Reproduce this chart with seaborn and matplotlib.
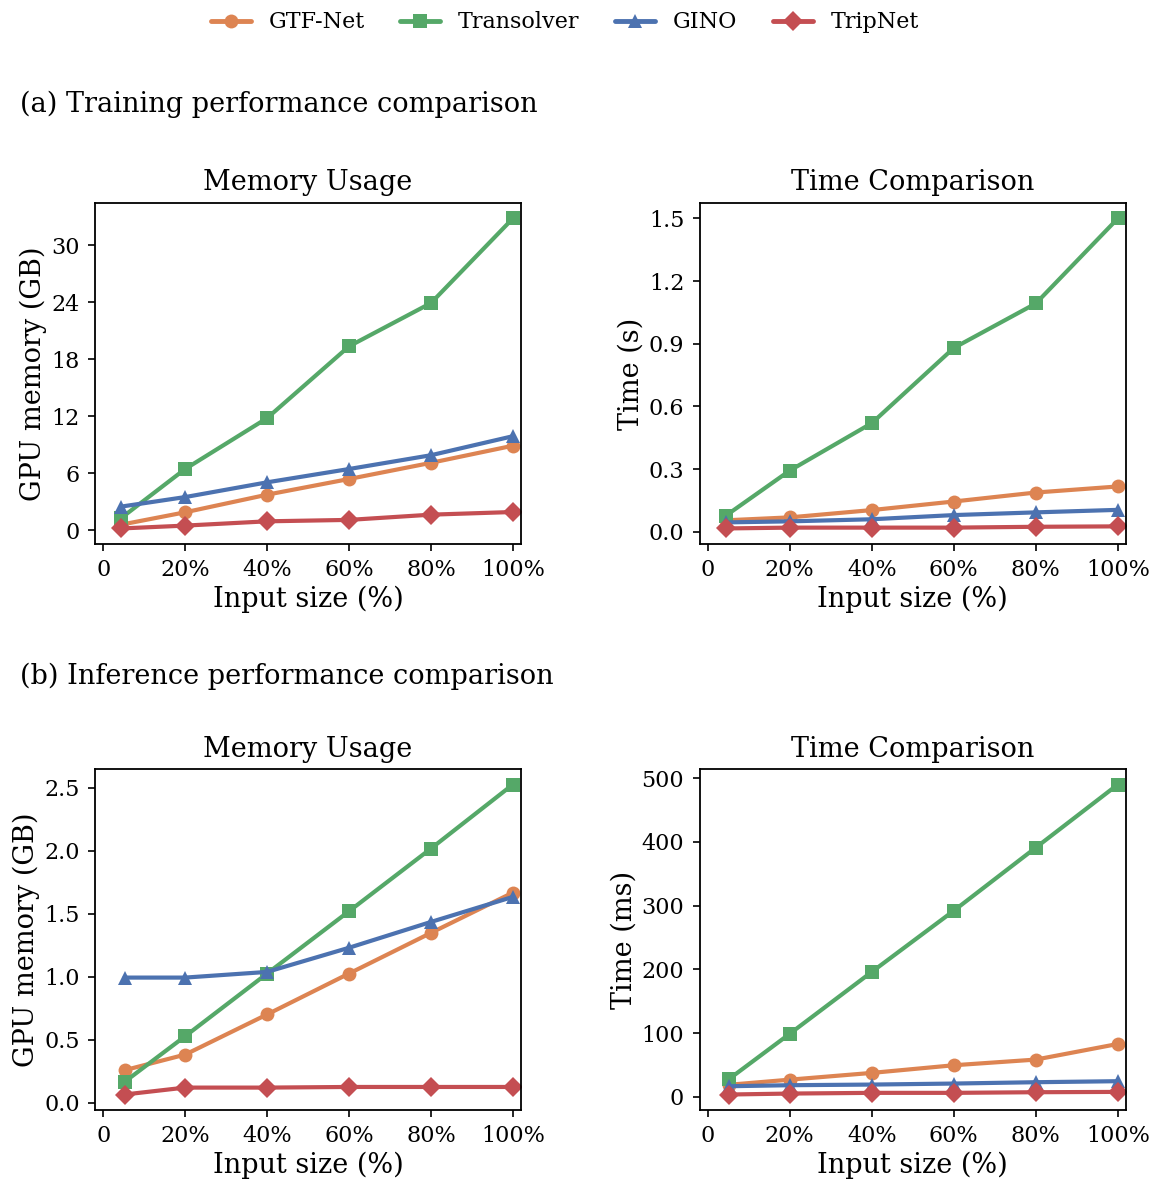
import pandas as pd
import seaborn as sns
import matplotlib.pyplot as plt

models = ['GTF-Net', 'Transolver', 'GINO', 'TripNet']
markers = {'GTF-Net': 'o', 'Transolver': 's', 'GINO': '^', 'TripNet': 'D'}
deep = sns.color_palette('deep')
colors = {'GTF-Net': deep[1], 'Transolver': deep[2], 'GINO': deep[0], 'TripNet': deep[3]}

# input sizes (%)
x_train = [4.4, 20, 40, 60, 80, 100]
x_infer = [5.2, 20, 40, 60, 80, 100]

# (a) training
train_mem = {
    'GTF-Net':    [0.6, 1.9, 3.75, 5.4, 7.1, 8.9],
    'Transolver': [1.3, 6.45, 11.8, 19.35, 23.9, 32.8],
    'GINO':       [2.5, 3.5, 5.05, 6.45, 7.9, 9.9],
    'TripNet':    [0.2, 0.5, 0.95, 1.1, 1.65, 1.93],
}
train_time = {
    'GTF-Net':    [0.055, 0.069, 0.104, 0.145, 0.188, 0.217],
    'Transolver': [0.077, 0.293, 0.52, 0.88, 1.093, 1.5],
    'GINO':       [0.045, 0.05, 0.06, 0.08, 0.093, 0.105],
    'TripNet':    [0.016, 0.02, 0.02, 0.02, 0.024, 0.026],
}

# (b) inference
infer_mem = {
    'GTF-Net':    [0.257, 0.381, 0.70, 1.025, 1.348, 1.668],
    'Transolver': [0.164, 0.527, 1.025, 1.52, 2.018, 2.527],
    'GINO':       [0.993, 0.993, 1.038, 1.23, 1.435, 1.634],
    'TripNet':    [0.064, 0.119, 0.119, 0.124, 0.124, 0.124],
}
infer_time = {
    'GTF-Net':    [19, 27, 37.6, 49.6, 58.5, 83],
    'Transolver': [28, 99, 196, 292, 391, 490],
    'GINO':       [16.7, 18.3, 19.3, 20.9, 23, 24.6],
    'TripNet':    [3.7, 5.2, 6.3, 6.3, 7.3, 7.8],
}


def to_long(xs, d):
    rows = []
    for m in models:
        for xv, yv in zip(xs, d[m]):
            rows.append({'x': xv, 'y': yv, 'model': m})
    return pd.DataFrame(rows)


sns.set_theme(style='ticks')
plt.rcParams['font.family'] = ['DejaVu Serif']
plt.rcParams['axes.linewidth'] = 1.3
for k in ['text.color', 'axes.labelcolor', 'xtick.color', 'ytick.color', 'axes.edgecolor']:
    plt.rcParams[k] = 'black'

fig = plt.figure(figsize=(11.53, 11.82), dpi=100)

# axes positions [left, bottom, width, height]
pos = [
    [0.0824, 0.5398, 0.3695, 0.2885],
    [0.6067, 0.5398, 0.3699, 0.2885],
    [0.0824, 0.0609, 0.3695, 0.2885],
    [0.6067, 0.0609, 0.3699, 0.2885],
]
panels = [
    (x_train, train_mem, 'Memory Usage', 'GPU memory (GB)', [0, 6, 12, 18, 24, 30], None),
    (x_train, train_time, 'Time Comparison', 'Time (s)', [0, 0.3, 0.6, 0.9, 1.2, 1.5], '{:.1f}'),
    (x_infer, infer_mem, 'Memory Usage', 'GPU memory (GB)', [0, 0.5, 1.0, 1.5, 2.0, 2.5], '{:.1f}'),
    (x_infer, infer_time, 'Time Comparison', 'Time (ms)', [0, 100, 200, 300, 400, 500], None),
]

for p, (xs, d, title, ylab, yt, fmt) in zip(pos, panels):
    ax = fig.add_axes(p)
    df = to_long(xs, d)
    sns.lineplot(data=df, x='x', y='y', hue='model', style='model',
                 markers=markers, dashes=False, palette=colors,
                 linewidth=3, markersize=10, markeredgewidth=0,
                 ax=ax, legend=False)
    ax.set_xlim(-2, 102)
    ax.set_xticks([0, 20, 40, 60, 80, 100])
    ax.set_xticklabels(['0', '20%', '40%', '60%', '80%', '100%'])
    ax.set_yticks(yt)
    if fmt:
        ax.set_yticklabels([fmt.format(v) for v in yt])
    ax.tick_params(labelsize=16, length=5, width=1.2, pad=6)
    ax.set_title(title, fontsize=19.5, pad=9)
    ax.set_xlabel('Input size (%)', fontsize=19.5, labelpad=3)
    ax.set_ylabel(ylab, fontsize=19.5, labelpad=3)

fig.text(0.017, 0.912, '(a) Training performance comparison', fontsize=19.5, va='center')
fig.text(0.017, 0.428, '(b) Inference performance comparison', fontsize=19.5, va='center')

handles = [plt.Line2D([], [], color=colors[m], marker=markers[m], lw=3.5, markersize=10,
                      markeredgewidth=0) for m in models]
fig.legend(handles, models, loc='center', bbox_to_anchor=(0.49, 0.981), ncol=4,
           frameon=False, fontsize=16, handlelength=1.8, columnspacing=1.6)

plt.savefig('out.png', dpi=100)
